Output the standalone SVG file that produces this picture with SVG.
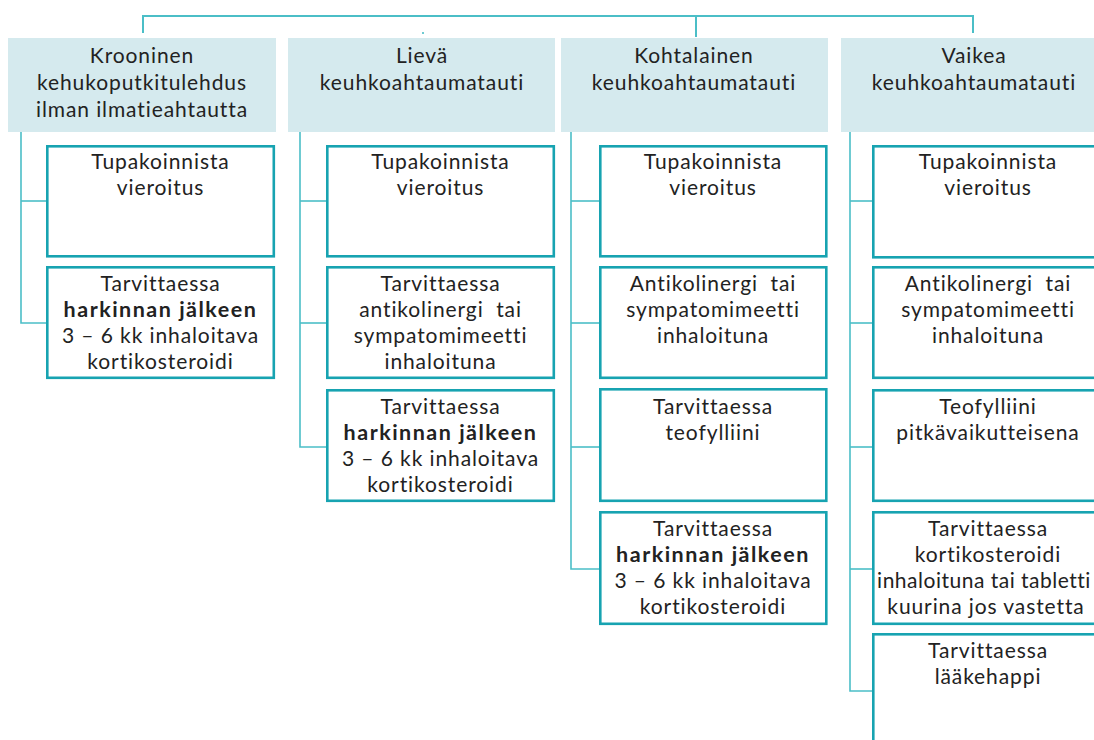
<svg xmlns="http://www.w3.org/2000/svg" width="1094" height="740" viewBox="0 0 1094 740">
  <style>
    .hdr { fill: #d5eaee; }
    .box { fill: #ffffff; stroke: #17a3b1; stroke-width: 2.6; }
    .lnk { fill: none; stroke: #4bbec7; stroke-width: 1.6; }
    .top { fill: none; stroke: #4bbec7; stroke-width: 2; }
    text { font-family: Lato, "Liberation Sans", sans-serif; font-size: 21px; letter-spacing: 0.9px; fill: #222222; text-anchor: middle; }
    .b { font-weight: bold; font-size: 21.5px; letter-spacing: 1.5px; }
    .tight { letter-spacing: 0.5px; }
  </style>
  <rect width="1094" height="740" fill="#ffffff"/>

  <!-- connectors -->
  <g id="connectors">
    <polyline class="top" points="143,33 143,16 973,16 973,33"/>
    <line class="top" x1="696" y1="16" x2="696" y2="37"/>
    <line class="lnk" x1="423" y1="32" x2="423" y2="34"/>
    <!-- column 1 -->
    <polyline class="lnk" points="21,132 21,323 46,323"/>
    <line class="lnk" x1="21" y1="201" x2="46" y2="201"/>
    <!-- column 2 -->
    <polyline class="lnk" points="300,132 300,447 326,447"/>
    <line class="lnk" x1="300" y1="201" x2="326" y2="201"/>
    <line class="lnk" x1="300" y1="323" x2="326" y2="323"/>
    <!-- column 3 -->
    <polyline class="lnk" points="571,132 571,569 599,569"/>
    <line class="lnk" x1="571" y1="201" x2="599" y2="201"/>
    <line class="lnk" x1="571" y1="323" x2="599" y2="323"/>
    <line class="lnk" x1="571" y1="447" x2="599" y2="447"/>
    <!-- column 4 -->
    <polyline class="lnk" points="850,132 850,691 872,691"/>
    <line class="lnk" x1="850" y1="201" x2="872" y2="201"/>
    <line class="lnk" x1="850" y1="323" x2="872" y2="323"/>
    <line class="lnk" x1="850" y1="447" x2="872" y2="447"/>
    <line class="lnk" x1="850" y1="569" x2="872" y2="569"/>
  </g>

  <!-- headers -->
  <g id="h1">
    <rect class="hdr" x="8" y="38" width="268" height="94"/>
    <text x="142" y="63">Krooninen</text>
    <text x="142" y="90">kehukoputkitulehdus</text>
    <text x="142" y="117">ilman ilmatieahtautta</text>
  </g>
  <g id="h2">
    <rect class="hdr" x="288" y="38" width="267" height="94"/>
    <text x="422" y="63">Lievä</text>
    <text x="422" y="90">keuhkoahtaumatauti</text>
  </g>
  <g id="h3">
    <rect class="hdr" x="561" y="38" width="267" height="94"/>
    <text x="694" y="63">Kohtalainen</text>
    <text x="694" y="90">keuhkoahtaumatauti</text>
  </g>
  <g id="h4">
    <rect class="hdr" x="841" y="38" width="267" height="94"/>
    <text x="974" y="63">Vaikea</text>
    <text x="974" y="90">keuhkoahtaumatauti</text>
  </g>

  <!-- column 1 -->
  <g id="c1a">
    <rect class="box" x="47.3" y="146.3" width="226.5" height="110"/>
    <text x="160.5" y="169">Tupakoinnista</text>
    <text x="160.5" y="195">vieroitus</text>
  </g>
  <g id="c1b">
    <rect class="box" x="47.3" y="267.3" width="226.5" height="110.5"/>
    <text x="160.5" y="291">Tarvittaessa</text>
    <text x="160.5" y="317" class="b">harkinnan jälkeen</text>
    <text x="160.5" y="343">3 – 6 kk inhaloitava</text>
    <text x="160.5" y="369">kortikosteroidi</text>
  </g>

  <!-- column 2 -->
  <g id="c2a">
    <rect class="box" x="327.3" y="146.3" width="226.5" height="110"/>
    <text x="440.5" y="169">Tupakoinnista</text>
    <text x="440.5" y="195">vieroitus</text>
  </g>
  <g id="c2b">
    <rect class="box" x="327.3" y="267.3" width="226.5" height="110.5"/>
    <text x="440.5" y="291">Tarvittaessa</text>
    <text x="440.5" y="317">antikolinergi&#160; tai</text>
    <text x="440.5" y="343">sympatomimeetti</text>
    <text x="440.5" y="369">inhaloituna</text>
  </g>
  <g id="c2c">
    <rect class="box" x="327.3" y="390.3" width="226.5" height="110.5"/>
    <text x="440.5" y="414">Tarvittaessa</text>
    <text x="440.5" y="440" class="b">harkinnan jälkeen</text>
    <text x="440.5" y="466">3 – 6 kk inhaloitava</text>
    <text x="440.5" y="492">kortikosteroidi</text>
  </g>

  <!-- column 3 -->
  <g id="c3a">
    <rect class="box" x="600.3" y="146.3" width="226" height="110"/>
    <text x="713" y="169">Tupakoinnista</text>
    <text x="713" y="195">vieroitus</text>
  </g>
  <g id="c3b">
    <rect class="box" x="600.3" y="267.3" width="226" height="110.5"/>
    <text x="713" y="291">Antikolinergi&#160; tai</text>
    <text x="713" y="317">sympatomimeetti</text>
    <text x="713" y="343">inhaloituna</text>
  </g>
  <g id="c3c">
    <rect class="box" x="600.3" y="389.3" width="226" height="111.5"/>
    <text x="713" y="414">Tarvittaessa</text>
    <text x="713" y="440">teofylliini</text>
  </g>
  <g id="c3d">
    <rect class="box" x="600.3" y="512.3" width="226" height="111.5"/>
    <text x="713" y="536">Tarvittaessa</text>
    <text x="713" y="562" class="b">harkinnan jälkeen</text>
    <text x="713" y="588">3 – 6 kk inhaloitava</text>
    <text x="713" y="614">kortikosteroidi</text>
  </g>

  <!-- column 4 -->
  <g id="c4a">
    <rect class="box" x="873.3" y="146.3" width="230" height="111"/>
    <text x="988" y="169">Tupakoinnista</text>
    <text x="988" y="195">vieroitus</text>
  </g>
  <g id="c4b">
    <rect class="box" x="873.3" y="267.3" width="230" height="110.5"/>
    <text x="988" y="291">Antikolinergi&#160; tai</text>
    <text x="988" y="317">sympatomimeetti</text>
    <text x="988" y="343">inhaloituna</text>
  </g>
  <g id="c4c">
    <rect class="box" x="873.3" y="390.3" width="230" height="110.5"/>
    <text x="988" y="414">Teofylliini</text>
    <text x="988" y="440">pitkävaikutteisena</text>
  </g>
  <g id="c4d">
    <rect class="box" x="873.3" y="512.3" width="230" height="111.5"/>
    <text x="988" y="536">Tarvittaessa</text>
    <text x="988" y="562">kortikosteroidi</text>
    <text x="984" y="588" class="tight">inhaloituna tai tabletti</text>
    <text x="986" y="614">kuurina jos vastetta</text>
  </g>
  <g id="c4e">
    <rect class="box" x="873.3" y="634.3" width="230" height="130"/>
    <text x="988" y="658">Tarvittaessa</text>
    <text x="988" y="684">lääkehappi</text>
  </g>
</svg>
